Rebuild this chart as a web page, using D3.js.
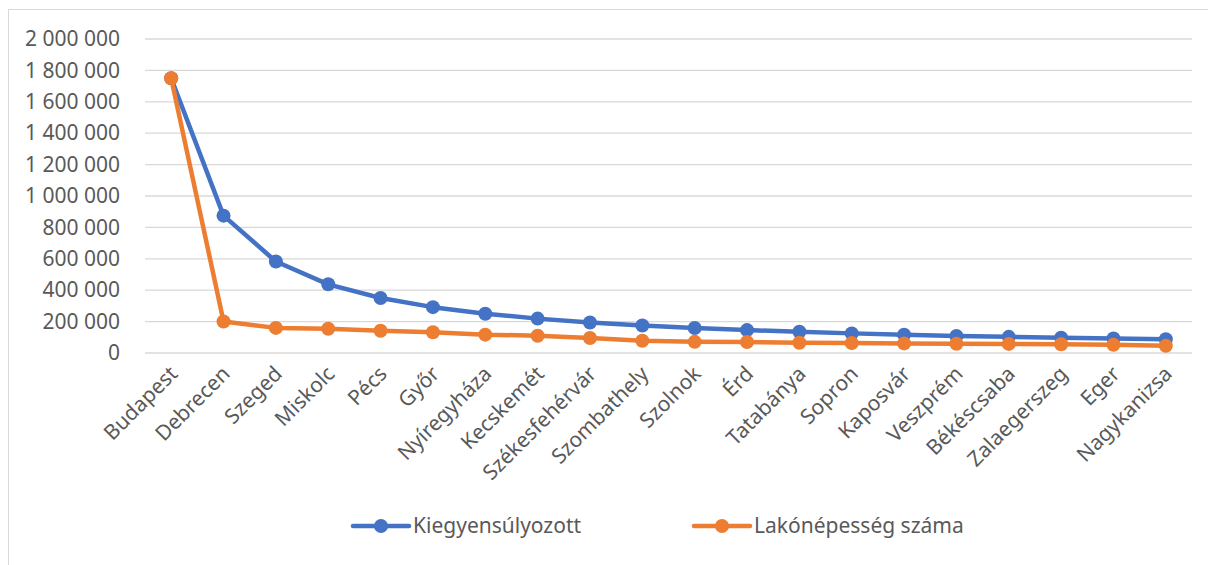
<!DOCTYPE html>
<html><head><meta charset="utf-8">
<script src="https://cdn.jsdelivr.net/npm/d3@7"></script>
<style>body{margin:0;background:#fff}svg{display:block}text{font-family:"Noto Sans","Open Sans","Liberation Sans",sans-serif}</style>
</head><body>
<svg id="c" width="1208" height="565"></svg>
<script>
const categories = ["Budapest","Debrecen","Szeged","Miskolc","Pécs","Győr","Nyíregyháza","Kecskemét","Székesfehérvár","Szombathely","Szolnok","Érd","Tatabánya","Sopron","Kaposvár","Veszprém","Békéscsaba","Zalaegerszeg","Eger","Nagykanizsa"];
const balanced = [1750000,875000,583000,437500,350000,292000,250000,219000,194000,175000,159000,146000,135000,125000,117000,109000,103000,97000,92000,87500];
const population = [1750000,201000,160000,154000,142000,132000,117000,110000,96000,78000,71000,70000,65000,63000,61000,59000,58000,56000,52000,46000];
const yTicks = [0,200000,400000,600000,800000,1000000,1200000,1400000,1600000,1800000,2000000];
const seriesNames = ["Kiegyensúlyozott","Lakónépesség száma"];
const colors = ["#4472c4","#ed7d31"];

const svg = d3.select("#c");
svg.append("rect").attr("x",8.5).attr("y",9.5).attr("width",1250).attr("height",600)
  .attr("fill","#fff").attr("stroke","#d9d9d9").attr("stroke-width",1);

const pLeft = 145, pRight = 1192, pTop = 39, pBottom = 353;
const x = d3.scalePoint().domain(categories).range([pLeft, pRight]).padding(0.5);
const y = d3.scaleLinear().domain([0,2000000]).range([pBottom, pTop]);
const fmt = v => d3.format(",")(v).replace(/,/g, "\u00a0");
const fs = 21;

// grid
svg.append("g").selectAll("line").data(yTicks).join("line")
  .attr("x1",pLeft).attr("x2",pRight).attr("y1",d=>y(d)).attr("y2",d=>y(d))
  .attr("stroke","#d9d9d9").attr("stroke-width",1.3);

// y axis
const ya = svg.append("g").attr("transform",`translate(${pLeft},0)`)
  .call(d3.axisLeft(y).tickValues(yTicks).tickFormat(fmt).tickSize(0).tickPadding(25));
ya.select(".domain").remove();
ya.selectAll("text").attr("font-size",fs).attr("fill","#595959");

// x axis
const xa = svg.append("g").attr("transform",`translate(0,${pBottom})`)
  .call(d3.axisBottom(x).tickSize(0));
xa.select(".domain").remove();
xa.selectAll("text").attr("font-size",fs).attr("fill","#595959")
  .attr("text-anchor","end").attr("dy",0)
  .attr("transform","translate(5,20) rotate(-45)");

const data = [balanced, population];
const line = d3.line().x((d,i)=>x(categories[i])).y(d=>y(d));
data.forEach((s,k)=>{
  const g = svg.append("g");
  g.append("path").datum(s).attr("d",line).attr("fill","none")
    .attr("stroke",colors[k]).attr("stroke-width",4.5).attr("stroke-linejoin","round");
  g.selectAll("circle").data(s).join("circle")
    .attr("cx",(d,i)=>x(categories[i])).attr("cy",d=>y(d)).attr("r",7)
    .attr("fill",colors[k]);
});

// legend
const legX = [353, 694];
seriesNames.forEach((n,k)=>{
  const g = svg.append("g").attr("transform",`translate(${legX[k]},526)`);
  g.append("line").attr("x1",0).attr("x2",56).attr("stroke",colors[k]).attr("stroke-width",4.5).attr("stroke-linecap","round");
  g.append("circle").attr("cx",28).attr("r",7).attr("fill",colors[k]);
  g.append("text").attr("x",60).attr("dy","0.35em").attr("font-size",fs).attr("fill","#595959").text(n);
});
</script>
</body></html>
